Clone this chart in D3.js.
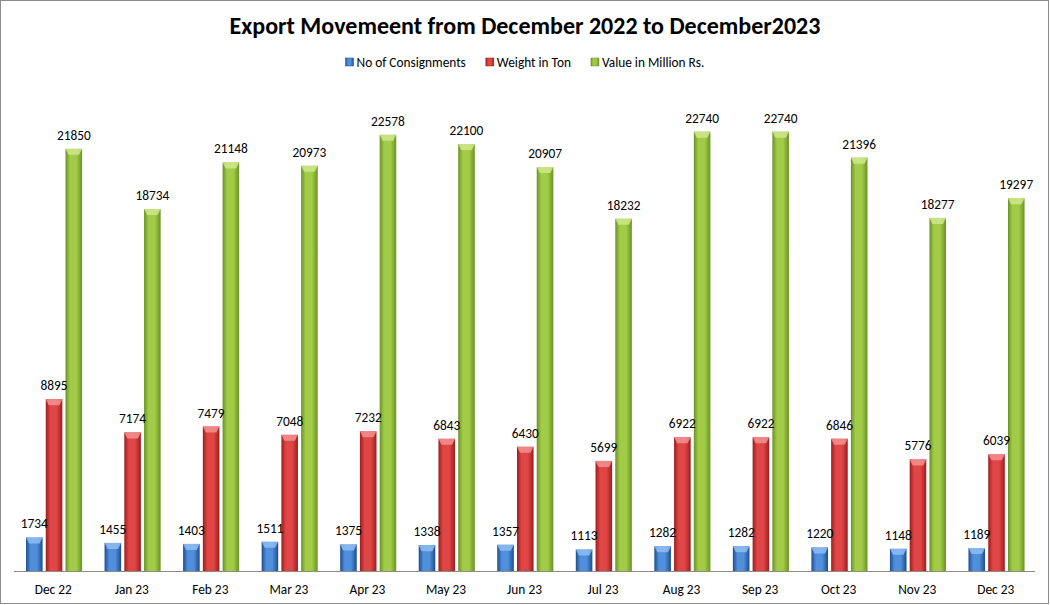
<!DOCTYPE html>
<html>
<head>
<meta charset="utf-8">
<script src="https://cdn.jsdelivr.net/npm/d3@7"></script>
<style>
  body { margin: 0; background: #fff; }
  text { font-family: Carlito, Lato, "Liberation Sans", sans-serif; }
</style>
</head>
<body>
<svg id="chart" width="1050" height="605"></svg>
<script>
var months = ["Dec 22", "Jan 23", "Feb 23", "Mar 23", "Apr 23", "May 23", "Jun 23",
              "Jul 23", "Aug 23", "Sep 23", "Oct 23", "Nov 23", "Dec 23"];
var consignments = [1734, 1455, 1403, 1511, 1375, 1338, 1357, 1113, 1282, 1282, 1220, 1148, 1189];
var weightTon = [8895, 7174, 7479, 7048, 7232, 6843, 6430, 5699, 6922, 6922, 6846, 5776, 6039];
var valueMillion = [21850, 18734, 21148, 20973, 22578, 22100, 20907, 18232, 22740, 22740, 21396, 18277, 19297];
var seriesNames = ["No of Consignments", "Weight in Ton", "Value in Million Rs."];

var svg = d3.select("#chart"),
    W = +svg.attr("width"),
    H = +svg.attr("height"),
    margin = {top: 88, right: 15, bottom: 34, left: 14},
    baseY = H - margin.bottom;

var series = [
  {name: seriesNames[0], values: consignments, dark: "#1f4d8c", mid: "#4f8fdc", cap: "#8fbdf2"},
  {name: seriesNames[1], values: weightTon, dark: "#9c1e1e", mid: "#e04646", cap: "#f49090"},
  {name: seriesNames[2], values: valueMillion, dark: "#6b9226", mid: "#a2cc48", cap: "#cfe78c"}
];

// chart frame
svg.append("rect")
    .attr("x", 0.5).attr("y", 0.5)
    .attr("width", W - 2).attr("height", H - 2)
    .attr("fill", "#fff")
    .attr("stroke", "#8c8c8c");

var defs = svg.append("defs");
series.forEach(function(s, i) {
  var gr = defs.append("linearGradient")
      .attr("id", "grad" + i)
      .attr("x1", "0%").attr("x2", "100%").attr("y1", "0%").attr("y2", "0%");
  gr.append("stop").attr("offset", "0%").attr("stop-color", s.dark);
  gr.append("stop").attr("offset", "28%").attr("stop-color", s.mid);
  gr.append("stop").attr("offset", "65%").attr("stop-color", s.mid);
  gr.append("stop").attr("offset", "100%").attr("stop-color", s.dark);
});

var x0 = d3.scaleBand()
    .domain(months)
    .range([margin.left, W - margin.right]);

var x1 = d3.scaleBand()
    .domain(seriesNames)
    .range([x0.bandwidth() * 0.153, x0.bandwidth() * 0.867])
    .paddingInner(0.16);

var y = d3.scaleLinear()
    .domain([0, 25000])
    .range([baseY, margin.top]);

// title
svg.append("text")
    .attr("x", W / 2)
    .attr("y", 34)
    .attr("text-anchor", "middle")
    .attr("font-size", "24px")
    .attr("font-weight", "bold")
    .attr("fill", "#000")
    .text("Export Movemeent from December 2022 to December2023");

// legend
var legend = svg.append("g");
var lx = 0;
series.forEach(function(s, i) {
  var item = legend.append("g").attr("transform", "translate(" + lx + ",0)");
  item.append("rect")
      .attr("x", 0).attr("y", -4)
      .attr("width", 8).attr("height", 8)
      .attr("fill", "url(#grad" + i + ")")
      .attr("stroke", s.dark).attr("stroke-width", 0.5);
  var t = item.append("text")
      .attr("x", 11).attr("y", 4.5)
      .attr("font-size", "13.33px")
      .attr("fill", "#000")
      .text(s.name);
  lx += 11 + t.node().getComputedTextLength() + 20;
});
legend.attr("transform", "translate(" + ((W - (lx - 20)) / 2) + ",62)");

// x axis baseline
svg.append("line")
    .attr("x1", margin.left).attr("x2", W - margin.right)
    .attr("y1", baseY + 0.5).attr("y2", baseY + 0.5)
    .attr("stroke", "#8c8c8c");

svg.append("g")
  .selectAll("text")
  .data(months)
  .enter().append("text")
    .attr("x", function(d) { return x0(d) + x0.bandwidth() / 2; })
    .attr("y", baseY + 23)
    .attr("text-anchor", "middle")
    .attr("font-size", "13.33px")
    .attr("fill", "#000")
    .text(function(d) { return d; });

var bw = x1.bandwidth();
var barLayer = svg.append("g"),
    labelLayer = svg.append("g");

// bars
series.forEach(function(s, i) {
  var g = barLayer.append("g");
  var data = months.map(function(m, j) { return {month: m, v: s.values[j]}; });

  g.selectAll("rect")
    .data(data)
    .enter().append("rect")
      .attr("x", function(d) { return x0(d.month) + x1(s.name); })
      .attr("y", function(d) { return y(d.v); })
      .attr("width", bw)
      .attr("height", function(d) { return baseY - y(d.v); })
      .attr("fill", "url(#grad" + i + ")");

  // bevelled top
  g.selectAll("polygon")
    .data(data)
    .enter().append("polygon")
      .attr("points", function(d) {
        var xl = x0(d.month) + x1(s.name), xr = xl + bw, yt = y(d.v);
        return [[xl, yt], [xr, yt], [xr - 3, yt + 6], [xl + 3, yt + 6]].join(" ");
      })
      .attr("fill", s.cap)
      .attr("opacity", 0.85);

  // value labels go on top of all bars
  labelLayer.append("g").selectAll("text")
    .data(data)
    .enter().append("text")
      .attr("x", function(d) { return x0(d.month) + x1(s.name) + bw / 2; })
      .attr("y", function(d) { return y(d.v) - 9; })
      .attr("text-anchor", "middle")
      .attr("font-size", "13.33px")
      .attr("fill", "#000")
      .text(function(d) { return d.v; });
});
</script>
</body>
</html>
